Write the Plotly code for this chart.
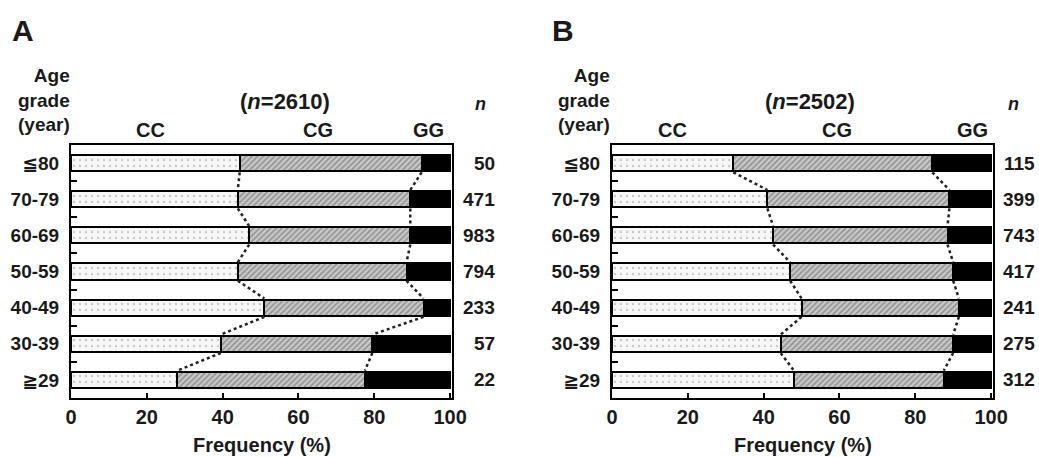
import plotly.graph_objects as go

age_labels = ["≦80", "70-79", "60-69", "50-59", "40-49", "30-39", "≧29"]
a_cc = [44.5, 44, 47, 44, 51, 39.5, 28]
a_gg = [7.5, 10.5, 10.5, 11.5, 7, 20.5, 22.5]
a_n = [50, 471, 983, 794, 233, 57, 22]
b_cc = [32, 41, 42.5, 47, 50, 44.5, 48]
b_gg = [15.5, 11, 11.5, 10, 8.5, 10, 12.5]
b_n = [115, 399, 743, 417, 241, 275, 312]
x_ticks = [0, 20, 40, 60, 80, 100]

W, H = 1039, 457
FONT = "Liberation Sans, Arial, DejaVu Sans, sans-serif"
TXT = "#1a1a1a"

fig = go.Figure()

def px(x):
    return x / W

def py(y):
    return 1 - y / H

panels = [
    dict(cc=a_cc, gg=a_gg, n=a_n, xa="x", ya="y", dom=(71, 452), letter="A", total=2610,
         lx=10, agex=72, ntitle=480, cc_x=150, cg_x=318, gg_x=428, nx=497, title_x=285),
    dict(cc=b_cc, gg=b_gg, n=b_n, xa="x2", ya="y2", dom=(612, 993), letter="B", total=2502,
         lx=550, agex=612, ntitle=1013, cc_x=672, cg_x=837, gg_x=972, nx=1037, title_x=810),
]

ypos = list(range(len(age_labels)))
bw = 0.45
annotations = []

for p in panels:
    cg = [100 - c - g for c, g in zip(p["cc"], p["gg"])]
    fig.add_trace(go.Bar(
        y=ypos, x=p["cc"], orientation="h", width=bw, xaxis=p["xa"], yaxis=p["ya"],
        marker=dict(color="#f6f6f6", line=dict(color="black", width=2),
                    pattern=dict(shape=".", fgcolor="#9a9a9a", bgcolor="#f7f7f7", size=6, solidity=0.12)),
        showlegend=False))
    fig.add_trace(go.Bar(
        y=ypos, x=cg, orientation="h", width=bw, xaxis=p["xa"], yaxis=p["ya"],
        marker=dict(color="#c0c0c0", line=dict(color="black", width=2),
                    pattern=dict(shape="/", fgcolor="#5a5a5a", bgcolor="#c9c9c9", size=4, solidity=0.4)),
        showlegend=False))
    fig.add_trace(go.Bar(
        y=ypos, x=p["gg"], orientation="h", width=bw, xaxis=p["xa"], yaxis=p["ya"],
        marker=dict(color="black", line=dict(color="black", width=2)),
        showlegend=False))
    # dotted connectors
    gstart = [100 - g for g in p["gg"]]
    for series in (p["cc"], gstart):
        xs, ys = [], []
        for i in range(len(series) - 1):
            xs += [series[i], series[i + 1], None]
            ys += [i + bw / 2 + 0.03, i + 1 - bw / 2 - 0.03, None]
        fig.add_trace(go.Scatter(x=xs, y=ys, mode="lines", xaxis=p["xa"], yaxis=p["ya"],
                                 line=dict(color="#222", width=2.5, dash="dot"),
                                 showlegend=False, hoverinfo="skip"))
    # n labels
    for i, n in enumerate(p["n"]):
        annotations.append(dict(x=px(p["nx"]), y=i, xref="paper", yref=p["ya"], text=f"<b>{n}</b>",
                                showarrow=False, xanchor="right", yanchor="middle",
                                font=dict(size=19, family=FONT, color=TXT)))
    annotations += [
        dict(x=px(p["lx"]), y=py(30), xref="paper", yref="paper", text=f"<b>{p['letter']}</b>",
             showarrow=False, xanchor="left", yanchor="middle", font=dict(size=30, family=FONT, color=TXT)),
        dict(x=px(p["agex"]), y=py(100), xref="paper", yref="paper",
             text="<b>Age<br>grade<br>(year)</b>", align="right",
             showarrow=False, xanchor="right", yanchor="middle", font=dict(size=19, family=FONT, color=TXT)),
        dict(x=px(p["title_x"]), y=py(102), xref="paper", yref="paper",
             text=f"<b>(<i>n</i>=2610)</b>" if p["total"] == 2610 else f"<b>(<i>n</i>={p['total']})</b>",
             showarrow=False, xanchor="center", yanchor="middle", font=dict(size=22, family=FONT, color=TXT)),
        dict(x=px(p["ntitle"]), y=py(104), xref="paper", yref="paper", text="<b><i>n</i></b>",
             showarrow=False, xanchor="center", yanchor="middle", font=dict(size=18, family=FONT, color=TXT)),
        dict(x=px(p["cc_x"]), y=py(130), xref="paper", yref="paper", text="<b>CC</b>",
             showarrow=False, xanchor="center", yanchor="middle", font=dict(size=20, family=FONT, color=TXT)),
        dict(x=px(p["cg_x"]), y=py(130), xref="paper", yref="paper", text="<b>CG</b>",
             showarrow=False, xanchor="center", yanchor="middle", font=dict(size=20, family=FONT, color=TXT)),
        dict(x=px(p["gg_x"]), y=py(130), xref="paper", yref="paper", text="<b>GG</b>",
             showarrow=False, xanchor="center", yanchor="middle", font=dict(size=20, family=FONT, color=TXT)),
        dict(x=px((p["dom"][0] + p["dom"][1]) / 2), y=py(445), xref="paper", yref="paper",
             text="<b>Frequency (%)</b>",
             showarrow=False, xanchor="center", yanchor="middle", font=dict(size=20, family=FONT, color=TXT)),
    ]

ydom = [py(398), py(145)]

def xaxis(dom, anchor):
    return dict(domain=[px(dom[0]), px(dom[1])], range=[0, 100.5], anchor=anchor,
                tickvals=x_ticks, ticktext=[f"<b>{t}</b>" for t in x_ticks],
                ticks="inside", ticklen=5, tickwidth=2, tickcolor="black",
                showline=True, linecolor="black", linewidth=2, mirror=True,
                showgrid=False, zeroline=False,
                tickfont=dict(size=20, family=FONT, color=TXT))

def yaxis(anchor):
    return dict(domain=ydom, range=[6.5, -0.5], anchor=anchor,
                tickvals=ypos, ticktext=[f"<b>{l}</b>" for l in age_labels],
                ticks="", showline=True, linecolor="black", linewidth=2, mirror=True,
                showgrid=False, zeroline=False, ticklabelstandoff=6,
                minor=dict(tickvals=[i + 0.5 for i in ypos[:-1]], ticks="inside", ticklen=6,
                           tickwidth=2, tickcolor="black", showgrid=False),
                tickfont=dict(size=19, family=FONT, color=TXT))

fig.update_layout(
    width=W, height=H, margin=dict(l=0, r=0, t=0, b=0, autoexpand=False),
    paper_bgcolor="white", plot_bgcolor="white",
    barmode="stack", bargap=0,
    xaxis=xaxis(panels[0]["dom"], "y"), yaxis=yaxis("x"),
    xaxis2=xaxis(panels[1]["dom"], "y2"), yaxis2=yaxis("x2"),
    annotations=annotations,
    font=dict(family=FONT, color=TXT),
)

fig.write_html("out.html", config={"displayModeBar": False},
               post_script="document.body.style.margin='0';document.body.style.overflow='hidden';")
